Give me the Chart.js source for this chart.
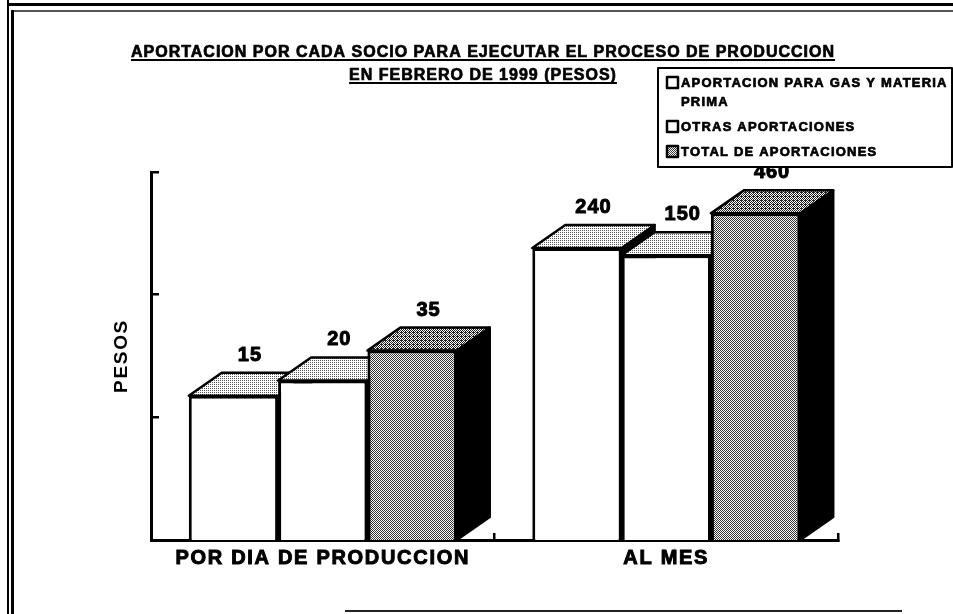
<!DOCTYPE html>
<html>
<head>
<meta charset="utf-8">
<script src="https://cdn.jsdelivr.net/npm/chart.js@4.4.1/dist/chart.umd.min.js"></script>
<style>
    html, body { margin: 0; padding: 0; background: #fff; }
    canvas { display: block; }
</style>
</head>
<body>
<canvas id="aportesChart" width="953" height="614"></canvas>
<script>
// --- datos ---
const categories = ["POR DIA DE PRODUCCION", "AL MES"];
const seriesNames = ["APORTACION PARA GAS Y MATERIA PRIMA", "OTRAS APORTACIONES", "TOTAL DE APORTACIONES"];
const gasValues = [15, 240];
const otrasValues = [20, 210];
const totalValues = [35, 460];
// etiquetas impresas sobre cada barra (la segunda de "AL MES" dice 150)
const gasLabels = ["15", "240"];
const otrasLabels = ["20", "150"];
const totalLabels = ["35", "460"];
const yTicks = [1, 10, 100, 1000];
const titleLines = [
    "APORTACION POR CADA SOCIO PARA EJECUTAR EL PROCESO DE PRODUCCION",
    "EN FEBRERO DE 1999 (PESOS)"
];
const yTitle = "PESOS";

const FONT = "'Liberation Sans', Arial, sans-serif";
const DX = 33, DY = 23; // profundidad del efecto 3D

const canvas = document.getElementById("aportesChart");
const ctx2d = canvas.getContext("2d");

// trama punteada tipo fotocopia (dither ordenado 4x4)
const bayer = [[0, 8, 2, 10], [12, 4, 14, 6], [3, 11, 1, 9], [15, 7, 13, 5]];
function stipple(density, ink) {
    const c = document.createElement("canvas");
    c.width = 4; c.height = 4;
    const g = c.getContext("2d");
    g.fillStyle = "#fff";
    g.fillRect(0, 0, 4, 4);
    g.fillStyle = ink;
    for (let y = 0; y < 4; y++) {
        for (let x = 0; x < 4; x++) {
            if (bayer[y][x] < density * 16) g.fillRect(x, y, 1, 1);
        }
    }
    return ctx2d.createPattern(c, "repeat");
}

const lightTop = stipple(0.25, "#555");
const greyFront = stipple(0.45, "#333");
const greyTop = stipple(0.56, "#222");

const frontFill = ["#ffffff", "#ffffff", greyFront];
const topFill = [lightTop, lightTop, greyTop];
const sideFill = ["#000", "#000", "#000"];
const valueLabels = [gasLabels, otrasLabels, totalLabels];

function poly(ctx, pts, fill) {
    ctx.beginPath();
    ctx.moveTo(pts[0][0], pts[0][1]);
    for (let k = 1; k < pts.length; k++) ctx.lineTo(pts[k][0], pts[k][1]);
    ctx.closePath();
    ctx.fillStyle = fill;
    ctx.fill();
    ctx.stroke();
}

// texto "engordado" como en la copia escaneada
function boldText(ctx, txt, x, y, w) {
    ctx.lineWidth = w;
    ctx.strokeStyle = "#000";
    ctx.strokeText(txt, x, y);
    ctx.fillText(txt, x, y);
}

/**
 * caras superior y lateral de cada barra (antes de las caras frontales)
 */
const depthPlugin = {
    id: "depth",
    beforeDraw(chart) {
        chart.ctx.letterSpacing = "1.7px";
    },
    beforeDatasetsDraw(chart) {
        const ctx = chart.ctx;
        const bars = [];
        chart.data.datasets.forEach((ds, i) => {
            chart.getDatasetMeta(i).data.forEach(bar => bars.push({ bar, i }));
        });
        bars.sort((a, b) => a.bar.x - b.bar.x);

        ctx.save();
        ctx.lineWidth = 2.5;
        ctx.lineJoin = "round";
        ctx.strokeStyle = "#000";
        bars.forEach(({ bar, i }) => {
            const l = bar.x - bar.width / 2, r = bar.x + bar.width / 2;
            const t = bar.y, b = bar.base;
            poly(ctx, [[r, t], [r + DX, t - DY], [r + DX, b - DY], [r, b]], sideFill[i]);
            poly(ctx, [[l, t], [l + DX, t - DY], [r + DX, t - DY], [r, t]], topFill[i]);
        });
        ctx.restore();
    }
};

/**
 * valores, titulo subrayado, leyenda y marco
 */
const decorPlugin = {
    id: "decor",
    afterDraw(chart) {
        const ctx = chart.ctx;
        ctx.save();
        ctx.fillStyle = "#000";
        ctx.lineJoin = "round";

        // valores sobre las barras
        ctx.letterSpacing = "1px";
        ctx.font = "bold 20px " + FONT;
        ctx.textAlign = "center";
        ctx.textBaseline = "middle";
        chart.data.datasets.forEach((ds, i) => {
            chart.getDatasetMeta(i).data.forEach((bar, j) => {
                boldText(ctx, valueLabels[i][j], bar.x + DX / 2, bar.y - DY - 17.5, 1);
            });
        });

        // titulo
        ctx.letterSpacing = "1px";
        ctx.font = "bold 16px " + FONT;
        ctx.textBaseline = "alphabetic";
        const titleBase = [57, 80];
        titleLines.forEach((line, k) => {
            const w = ctx.measureText(line).width;
            boldText(ctx, line, 483, titleBase[k], 0.7);
            ctx.fillRect(483 - w / 2, titleBase[k] + 2, w, 2);
        });

        // leyenda
        const lx = 658, ly = 68, lw = 294, lh = 99;
        ctx.fillStyle = "#fff";
        ctx.fillRect(lx, ly, lw, lh);
        ctx.lineWidth = 2;
        ctx.strokeStyle = "#000";
        ctx.strokeRect(lx, ly, lw, lh);
        ctx.letterSpacing = "1.2px";
        ctx.font = "bold 13px " + FONT;
        ctx.textAlign = "left";
        let base = ly + 19;
        seriesNames.forEach((name, i) => {
            ctx.fillStyle = frontFill[i];
            ctx.fillRect(667, base - 10, 11, 11);
            ctx.lineWidth = 2.5;
            ctx.strokeStyle = "#000";
            ctx.strokeRect(667, base - 10, 11, 11);
            ctx.fillStyle = "#000";
            // partir el texto en lineas segun el ancho del recuadro
            const words = name.split(" ");
            let line = "";
            const lines = [];
            words.forEach(w => {
                const test = line ? line + " " + w : w;
                if (ctx.measureText(test).width > 270 && line) {
                    lines.push(line);
                    line = w;
                } else {
                    line = test;
                }
            });
            lines.push(line);
            lines.forEach((txt, k) => boldText(ctx, txt, 681, base + k * 19, 0.7));
            base += (lines.length - 1) * 19 + 25;
        });

        // marco de la hoja escaneada
        ctx.fillStyle = "#000";
        ctx.fillRect(8, 3, 945, 3);
        ctx.fillRect(7, 0, 2, 614);
        ctx.fillRect(11, 10, 3, 604);
        ctx.fillStyle = "#555";
        ctx.fillRect(14, 10, 939, 2);
        ctx.fillStyle = "#222";
        ctx.fillRect(345, 610, 557, 2);
        ctx.restore();
    }
};

const aportesChart = new Chart(canvas, {
    type: "bar",
    data: {
        labels: categories,
        datasets: [
            { label: seriesNames[0], data: gasValues, backgroundColor: frontFill[0] },
            { label: seriesNames[1], data: otrasValues, backgroundColor: frontFill[1] },
            { label: seriesNames[2], data: totalValues, backgroundColor: frontFill[2] }
        ].map(ds => Object.assign(ds, {
            borderColor: "#000",
            borderWidth: 3,
            categoryPercentage: 0.78,
            barPercentage: 1.0
        }))
    },
    options: {
        responsive: false,
        animation: false,
        layout: { padding: { top: 172, right: 115, bottom: 0, left: 0 } },
        plugins: {
            legend: { display: false },
            title: { display: false },
            tooltip: { enabled: false }
        },
        scales: {
            x: {
                ticks: {
                    color: "#000",
                    font: { family: FONT, size: 20, weight: "bold" },
                    textStrokeColor: "#000",
                    textStrokeWidth: 1,
                    padding: 13,
                    maxRotation: 0,
                    autoSkip: false
                },
                grid: { offset: true, drawOnChartArea: false, tickLength: -7, color: "#000", lineWidth: 2.5 },
                border: { color: "#000", width: 3 },
                afterFit: s => { s.height = 74; }
            },
            y: {
                type: "logarithmic",
                min: yTicks[0],
                max: yTicks[yTicks.length - 1],
                afterBuildTicks: s => { s.ticks = yTicks.map(v => ({ value: v })); },
                ticks: { display: false },
                grid: { drawOnChartArea: false, tickLength: -8, color: "#000", lineWidth: 2.5 },
                border: { color: "#000", width: 3 },
                title: {
                    display: true,
                    text: yTitle,
                    color: "#000",
                    font: { family: FONT, size: 19, weight: "bold" },
                    padding: { top: 110, bottom: 0 }
                },
                afterFit: s => { s.width = 151; }
            }
        }
    },
    plugins: [depthPlugin, decorPlugin]
});
</script>
</body>
</html>
